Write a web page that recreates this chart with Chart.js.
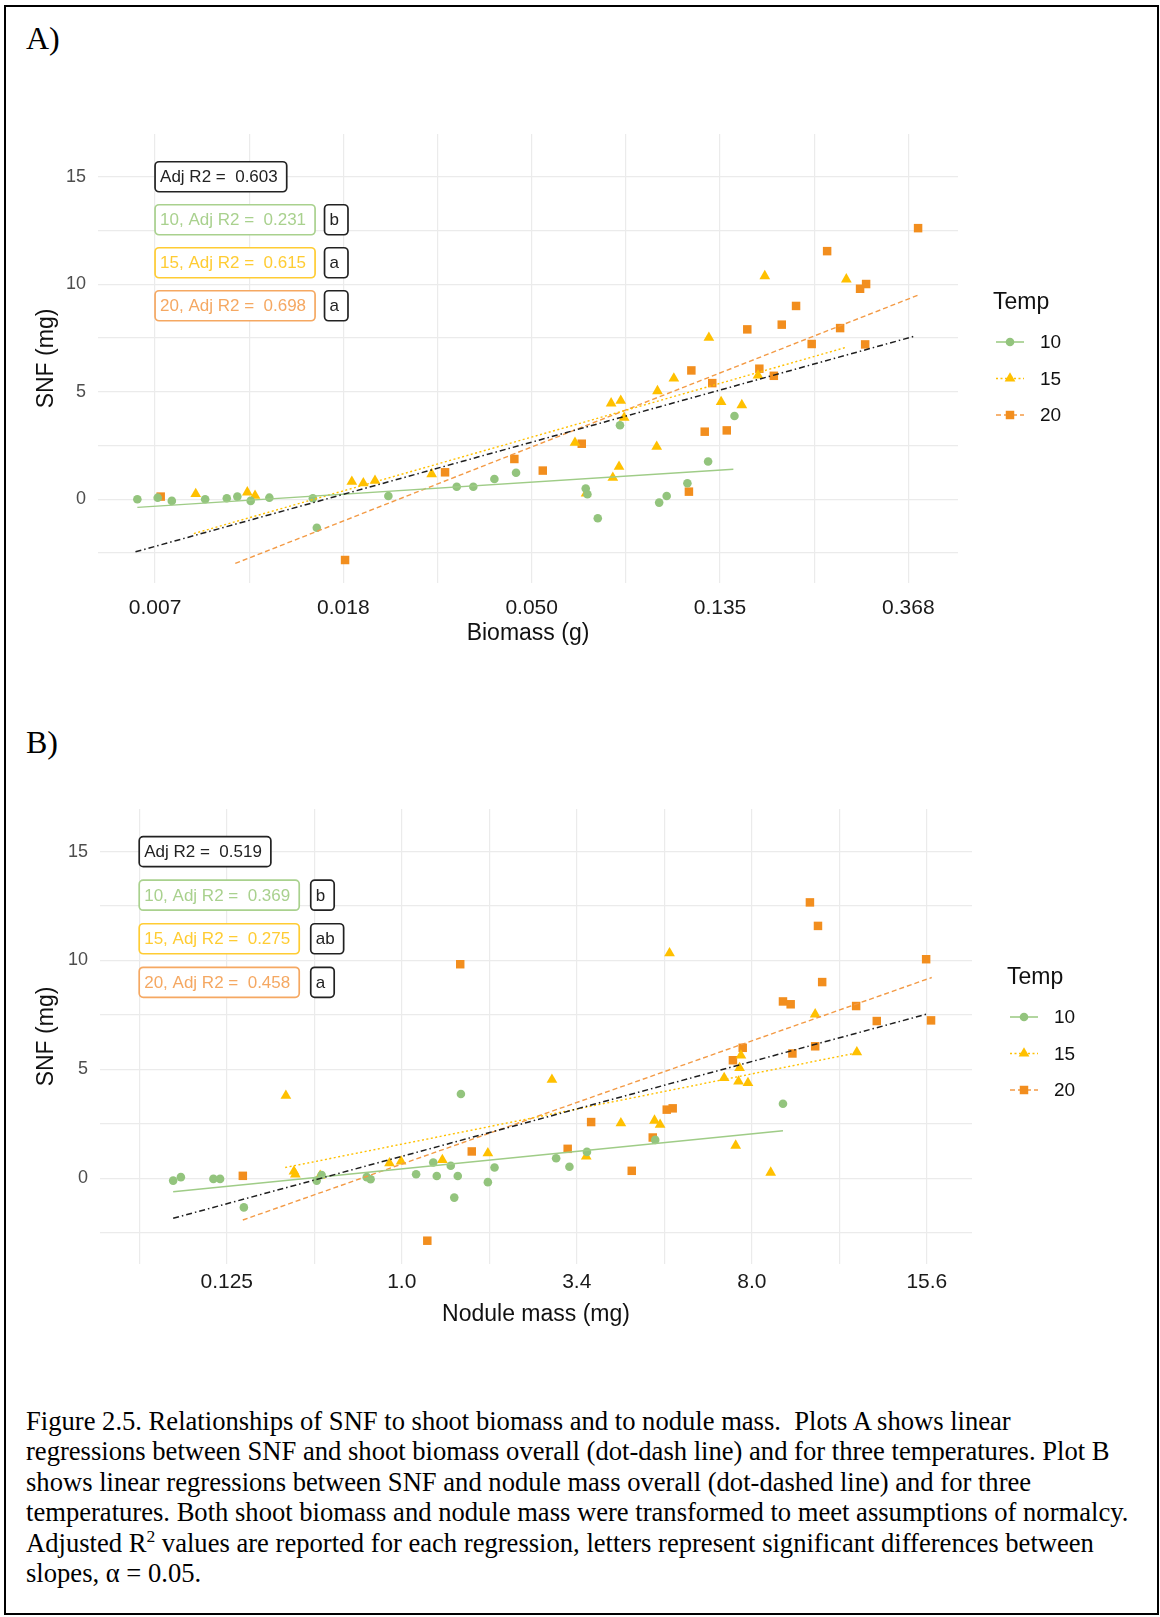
<!DOCTYPE html>
<html>
<head>
<meta charset="utf-8">
<script src="https://cdn.jsdelivr.net/npm/chart.js@4.4.1/dist/chart.umd.min.js"></script>
<style>
  html, body { margin: 0; padding: 0; background: #fff; }
  body { width: 1160px; height: 1617px; position: relative; overflow: hidden; }
  #frame { position: absolute; left: 4px; top: 5px; width: 1155px; height: 1610px; border: 2.5px solid #000; box-sizing: border-box; }
  .tag { position: absolute; left: 26px; font: 32px "Liberation Serif", "Times New Roman", serif; line-height: 32px; color: #000; }
  .plot { position: absolute; left: 0; width: 1160px; height: 540px; }
  #caption { position: absolute; left: 26px; top: 1406px; width: 1130px; font: 26.6px "Liberation Serif", "Times New Roman", serif; line-height: 30.4px; color: #000; white-space: nowrap; }
  #caption sup { font-size: 0.66em; line-height: 0; vertical-align: 0.55em; }
</style>
</head>
<body>
<div id="frame"></div>
<div class="tag" style="top:22px">A)</div>
<div class="plot" style="top:120px"><canvas id="chartA" width="1160" height="540"></canvas></div>
<div class="tag" style="top:726px">B)</div>
<div class="plot" style="top:790px"><canvas id="chartB" width="1160" height="540"></canvas></div>
<div id="caption">
Figure 2.5. Relationships of SNF to shoot biomass and to nodule mass.&nbsp; Plots A shows linear<br>
regressions between SNF and shoot biomass overall (dot-dash line) and for three temperatures. Plot B<br>
shows linear regressions between SNF and nodule mass overall (dot-dashed line) and for three<br>
temperatures. Both shoot biomass and nodule mass were transformed to meet assumptions of normalcy.<br>
Adjusted R<sup>2</sup> values are reported for each regression, letters represent significant differences between<br>
slopes, &alpha; = 0.05.
</div>
<script>
// ===== DATA =====
const temps = ['10', '15', '20'];

// Panel A: x is ln(shoot biomass, g), y is SNF (mg)
const bioTicks = [-5, -4, -3, -2, -1];
const bioTickLabels = ['0.007', '0.018', '0.050', '0.135', '0.368'];
const bioGrid = [-5, -4.5, -4, -3.5, -3, -2.5, -2, -1.5, -1];

const bio10 = [-5.094, -4.986, -4.911, -4.734, -4.619, -4.563, -4.492, -4.393, -4.162, -4.141, -3.761, -3.398, -3.310, -3.198, -3.083, -2.713, -2.704, -2.649, -2.531, -2.323, -2.283, -2.173, -2.063, -1.923];
const snfBio10 = [0.0, 0.07, -0.08, 0.0, 0.04, 0.12, -0.08, 0.07, 0.04, -1.33, 0.15, 0.58, 0.58, 0.94, 1.23, 0.5, 0.23, -0.89, 3.44, -0.16, 0.15, 0.74, 1.75, 3.87];
const bio15 = [-4.784, -4.510, -4.469, -3.955, -3.894, -3.832, -3.531, -2.770, -2.711, -2.578, -2.569, -2.536, -2.527, -2.509, -2.336, -2.332, -2.245, -2.059, -1.994, -1.884, -1.798, -1.762, -1.329];
const snfBio15 = [0.24, 0.32, 0.16, 0.81, 0.74, 0.86, 1.17, 2.63, 0.27, 4.46, 1.0, 1.51, 4.58, 3.79, 2.44, 5.03, 5.62, 7.51, 4.52, 4.38, 5.76, 10.38, 10.23];
const bio20 = [-4.970, -3.991, -3.460, -3.092, -2.941, -2.734, -2.165, -2.152, -2.081, -2.041, -1.964, -1.855, -1.791, -1.714, -1.672, -1.596, -1.513, -1.431, -1.362, -1.256, -1.229, -1.224, -0.948];
const snfBio20 = [0.12, -2.83, 1.25, 1.87, 1.33, 2.58, 0.35, 5.99, 3.14, 5.40, 3.20, 7.90, 6.07, 5.74, 8.12, 8.99, 7.22, 11.54, 7.96, 9.79, 7.20, 10.01, 12.61];

// fitted lines, [[x1, y1], [x2, y2]]
const fitBioAll = [[-5.104, -2.45], [-0.964, 7.59]];
const fitBio10 = [[-5.094, -0.38], [-1.929, 1.39]];
const fitBio15 = [[-4.794, -1.6], [-1.336, 7.05]];
const fitBio20 = [[-4.574, -2.99], [-0.946, 9.50]];

const adjR2Bio = ['0.603', '0.231', '0.615', '0.698'];
const lettersBio = ['b', 'a', 'a'];

// Panel B: x is cube root of nodule mass (mg), y is SNF (mg)
const nodTicks = [0.5, 1.0, 1.5, 2.0, 2.5];
const nodTickLabels = ['0.125', '1.0', '3.4', '8.0', '15.6'];
const nodGrid = [0.25, 0.5, 0.75, 1.0, 1.25, 1.5, 1.75, 2.0, 2.25, 2.5];

const nod10 = [0.347, 0.369, 0.462, 0.481, 0.549, 0.757, 0.771, 0.9, 0.911, 1.041, 1.090, 1.1, 1.140, 1.150, 1.160, 1.169, 1.246, 1.265, 1.441, 1.479, 1.529, 1.724, 2.089];
const snfNod10 = [-0.11, 0.05, -0.03, -0.03, -1.34, -0.11, 0.15, 0.05, -0.05, 0.18, 0.72, 0.1, 0.57, -0.89, 0.1, 3.87, -0.18, 0.49, 0.92, 0.53, 1.21, 1.76, 3.42];
const nod15 = [0.669, 0.692, 0.696, 0.767, 0.965, 0.998, 1.116, 1.246, 1.429, 1.527, 1.626, 1.722, 1.738, 1.765, 1.921, 1.954, 1.962, 1.965, 1.969, 1.989, 2.054, 2.181, 2.300];
const snfNod15 = [3.79, 0.31, 0.18, 0.12, 0.69, 0.77, 0.84, 1.15, 4.53, 1.0, 2.53, 2.65, 2.46, 10.34, 4.61, 1.50, 4.45, 5.07, 5.64, 4.38, 0.26, 7.53, 5.79];
const nod20 = [0.546, 1.073, 1.167, 1.2, 1.474, 1.541, 1.657, 1.717, 1.757, 1.774, 1.946, 1.974, 2.089, 2.111, 2.116, 2.166, 2.181, 2.189, 2.201, 2.298, 2.357, 2.498, 2.512];
const snfNod20 = [0.11, -2.87, 9.83, 1.23, 1.35, 2.58, 0.34, 1.87, 3.15, 3.21, 5.42, 5.99, 8.12, 7.99, 5.73, 12.67, 6.06, 11.59, 9.01, 7.91, 7.22, 10.06, 7.25];

const fitNodAll = [[0.347, -1.84], [2.505, 7.56]];
const fitNod10 = [[0.347, -0.62], [2.089, 2.18]];
const fitNod15 = [[0.667, 0.49], [2.3, 5.76]];
const fitNod20 = [[0.546, -1.92], [2.514, 9.22]];

const adjR2Nod = ['0.519', '0.369', '0.275', '0.458'];
const lettersNod = ['b', 'ab', 'a'];

const snfTicks = [0, 5, 10, 15];
const snfGrid = [-2.5, 0, 2.5, 5, 7.5, 10, 12.5, 15];

// ===== STYLE =====
Chart.defaults.font.family = '"Liberation Sans", Arial, sans-serif';
const gridColor = '#EBEBEB';
const groupStyle = [
    { point: '#93C47D', line: '#9FCC87', label: '#A9D18E', shape: 'circle', radius: 4.3, dash: [] },
    { point: '#FFC000', line: '#FFC000', label: '#FFCC33', shape: 'triangle', radius: 6.2, dash: [2, 2.5] },
    { point: '#F28E1E', line: '#F39A45', label: '#F5A862', shape: 'rect', radius: 6, dash: [5, 3] }
];
const overallStyle = { line: '#1f1f1f', dash: [6, 3, 1.5, 3] };

const toPts = (xs, ys) => xs.map((x, i) => ({ x, y: ys[i] }));
const toLine = seg => seg.map(p => ({ x: p[0], y: p[1] }));

function buildDatasets(xs, ys, fits, fitAll) {
    const ds = [];
    xs.forEach((x, g) => {
        const st = groupStyle[g];
        ds.push({
            type: 'scatter', label: temps[g], data: toPts(x, ys[g]), order: 2,
            pointStyle: st.shape, pointRadius: st.radius, pointBackgroundColor: st.point,
            pointBorderWidth: 0, pointHoverRadius: st.radius
        });
    });
    fits.forEach((seg, g) => {
        const st = groupStyle[g];
        ds.push({
            type: 'line', label: 'fit ' + temps[g], data: toLine(seg), order: 1,
            borderColor: st.line, borderWidth: 1.4, borderDash: st.dash, pointRadius: 0, fill: false
        });
    });
    ds.push({
        type: 'line', label: 'fit all', data: toLine(fitAll), order: 0,
        borderColor: overallStyle.line, borderWidth: 1.5, borderDash: overallStyle.dash, pointRadius: 0, fill: false
    });
    return ds;
}

function roundRect(ctx, x, y, w, h, r) {
    ctx.beginPath();
    ctx.moveTo(x + r, y);
    ctx.arcTo(x + w, y, x + w, y + h, r);
    ctx.arcTo(x + w, y + h, x, y + h, r);
    ctx.arcTo(x, y + h, x, y, r);
    ctx.arcTo(x, y, x + w, y, r);
    ctx.closePath();
}

function drawLabel(ctx, left, cy, text, color) {
    ctx.font = '17px "Liberation Sans", Arial, sans-serif';
    const w = ctx.measureText(text).width + 14;
    roundRect(ctx, left, cy - 15, w, 30, 4);
    ctx.fillStyle = '#fff';
    ctx.fill();
    ctx.lineWidth = 1.7;
    ctx.strokeStyle = color;
    ctx.stroke();
    ctx.fillStyle = color;
    ctx.textBaseline = 'middle';
    ctx.textAlign = 'left';
    ctx.fillText(text, left + 5, cy + 1);
}

// R2 boxes, slope letters and the Temp legend
const decorPlugin = {
    id: 'decor',
    afterDraw(chart, args, opts) {
        const { ctx, chartArea: ca, scales: { x, y } } = chart;
        ctx.save();
        drawLabel(ctx, x.getPixelForValue(opts.labelX), y.getPixelForValue(15), 'Adj R2 =  ' + opts.r2[0], '#222');
        temps.forEach((t, g) => {
            const cy = y.getPixelForValue(13 - 2 * g);
            drawLabel(ctx, x.getPixelForValue(opts.labelX), cy, t + ', Adj R2 =  ' + opts.r2[g + 1], groupStyle[g].label);
            drawLabel(ctx, x.getPixelForValue(opts.letterX), cy, opts.letters[g], '#222');
        });

        // legend
        ctx.fillStyle = '#111';
        ctx.font = '23px "Liberation Sans", Arial, sans-serif';
        ctx.textBaseline = 'middle';
        ctx.textAlign = 'left';
        ctx.fillText('Temp', ca.right + 35, ca.top + 169);
        temps.forEach((t, g) => {
            const st = groupStyle[g];
            const cy = ca.top + 208 + 36.5 * g;
            const cx = ca.right + 52;
            ctx.beginPath();
            ctx.setLineDash(st.dash);
            ctx.strokeStyle = st.line;
            ctx.lineWidth = 1.6;
            ctx.moveTo(cx - 14, cy);
            ctx.lineTo(cx + 14, cy);
            ctx.stroke();
            ctx.setLineDash([]);
            ctx.fillStyle = st.point;
            Chart.helpers.drawPoint(ctx, { pointStyle: st.shape, radius: st.radius, rotation: 0, borderWidth: 0 }, cx, cy);
            ctx.fillStyle = '#111';
            ctx.font = '19px "Liberation Sans", Arial, sans-serif';
            ctx.fillText(t, ca.right + 82, cy + 1);
        });
        ctx.restore();
    }
};

function makeChart(id, o) {
    return new Chart(document.getElementById(id), {
        data: { datasets: buildDatasets(o.xs, o.ys, o.fits, o.fitAll) },
        options: {
            responsive: false, animation: false, devicePixelRatio: 1,
            layout: { padding: o.padding },
            plugins: {
                legend: { display: false }, tooltip: { enabled: false },
                decor: { labelX: o.labelX, letterX: o.letterX, r2: o.r2, letters: o.letters }
            },
            scales: {
                x: {
                    type: 'linear', min: o.xMin, max: o.xMax,
                    afterBuildTicks: s => { s.ticks = o.xGrid.map(v => ({ value: v })); },
                    afterFit: s => { s.height = o.xHeight; s.paddingLeft = 0; s.paddingRight = 0; },
                    grid: { color: gridColor, lineWidth: 1.2, drawTicks: false },
                    border: { display: false },
                    ticks: {
                        autoSkip: false, maxRotation: 0, padding: o.xTickPad, color: '#1a1a1a', font: { size: 21 },
                        callback: v => { const i = o.xTicks.indexOf(v); return i < 0 ? '' : o.xLabels[i]; }
                    },
                    title: { display: true, text: o.xTitle, color: '#111', font: { size: 23 }, padding: { top: 0, bottom: o.xTitlePad } }
                },
                y: {
                    type: 'linear', min: o.yMin, max: o.yMax,
                    afterBuildTicks: s => { s.ticks = snfGrid.map(v => ({ value: v })); },
                    afterFit: s => { s.width = o.yWidth; s.paddingTop = 0; s.paddingBottom = 0; },
                    grid: { color: gridColor, lineWidth: 1.2, drawTicks: false },
                    border: { display: false },
                    ticks: {
                        autoSkip: false, padding: 12, color: '#4d4d4d', font: { size: 18 },
                        callback: v => snfTicks.includes(v) ? String(v) : ''
                    },
                    title: { display: true, text: 'SNF (mg)', color: '#111', font: { size: 23 }, padding: { top: 33, bottom: 0 } }
                }
            }
        },
        plugins: [decorPlugin]
    });
}

makeChart('chartA', {
    xs: [bio10, bio15, bio20], ys: [snfBio10, snfBio15, snfBio20],
    fits: [fitBio10, fitBio15, fitBio20], fitAll: fitBioAll,
    xMin: -5.303, xMax: -0.736, yMin: -3.9, yMax: 16.99,
    xGrid: bioGrid, xTicks: bioTicks, xLabels: bioTickLabels, xTitle: 'Biomass (g)',
    padding: { left: 0, top: 14, right: 202, bottom: 0 },
    xHeight: 77, yWidth: 98, xTickPad: 13, xTitlePad: 13,
    labelX: -5, letterX: -4.1, r2: adjR2Bio, letters: lettersBio
});

makeChart('chartB', {
    xs: [nod10, nod15, nod20], ys: [snfNod10, snfNod15, snfNod20],
    fits: [fitNod10, fitNod15, fitNod20], fitAll: fitNodAll,
    xMin: 0.138, xMax: 2.629, yMin: -3.94, yMax: 16.96,
    xGrid: nodGrid, xTicks: nodTicks, xLabels: nodTickLabels, xTitle: 'Nodule mass (mg)',
    padding: { left: 0, top: 19, right: 188, bottom: 0 },
    xHeight: 66, yWidth: 100, xTickPad: 6, xTitlePad: 1.5,
    labelX: 0.25, letterX: 0.74, r2: adjR2Nod, letters: lettersNod
});
</script>
</body>
</html>
